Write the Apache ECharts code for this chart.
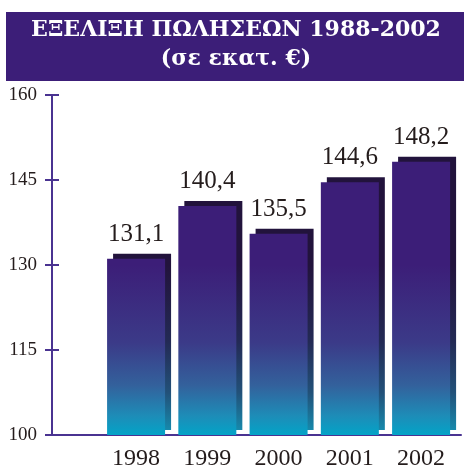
<!DOCTYPE html>
<html>
<head>
<meta charset="utf-8">
<script src="https://cdn.jsdelivr.net/npm/echarts@6/dist/echarts.min.js"></script>
<style>
html,body{margin:0;padding:0;background:#fff;}
#chart{width:464px;height:471px;}
</style>
</head>
<body>
<div id="chart"></div>
<script>
var titleLine1 = 'ΕΞΕΛΙΞΗ ΠΩΛΗΣΕΩΝ 1988-2002';
var titleLine2 = '(σε εκατ. €)';
var categories = ['1998', '1999', '2000', '2001', '2002'];
var sales = [131.1, 140.4, 135.5, 144.6, 148.2];
var yMin = 100, yMax = 160, yStep = 15;

var chart = echarts.init(document.getElementById('chart'), null, {renderer: 'canvas'});
var seriesData = sales.map(function (v, i) { return [i, v]; });
var axisColor = '#4a3391';
var textColor = '#241c1c';
var serif = '"Liberation Serif", "Times New Roman", serif';
var BAR_W = 58;

var frontGrad = {
  type: 'linear', x: 0, y: 265, x2: 0, y2: 437, global: true,
  colorStops: [
    {offset: 0, color: '#3c1e78'},
    {offset: 0.45, color: '#3b3a88'},
    {offset: 0.7, color: '#33619c'},
    {offset: 0.88, color: '#1d8db8'},
    {offset: 1, color: '#00a6c9'}
  ]
};
var shadowGrad = {
  type: 'linear', x: 0, y: 265, x2: 0, y2: 435, global: true,
  colorStops: [
    {offset: 0, color: '#22133c'},
    {offset: 0.45, color: '#232a55'},
    {offset: 0.75, color: '#225179'},
    {offset: 1, color: '#1590b2'}
  ]
};

var option = {
  animation: false,
  backgroundColor: '#ffffff',
  graphic: [{
    type: 'rect', z: 0,
    shape: {x: 6, y: 12, width: 460, height: 69},
    style: {fill: '#3c1e78'}
  }],
  title: {
    text: titleLine1 + '\n' + titleLine2,
    left: 236, top: 16, padding: 0,
    textAlign: 'center',
    z: 10,
    textStyle: {
      color: '#ffffff', fontFamily: '"DejaVu Serif", serif', fontWeight: 'bold',
      fontSize: 22, lineHeight: 29
    }
  },
  grid: {left: 52, right: 3, top: 95, bottom: 32},
  xAxis: {
    type: 'value', min: -1.18, max: 4.56,
    axisLine: {show: true, onZero: false, lineStyle: {color: axisColor, width: 2}},
    axisTick: {show: false},
    splitLine: {show: false},
    axisLabel: {
      customValues: [0, 1, 2, 3, 4],
      formatter: function (v) { return categories[Math.round(v)]; },
      color: textColor, fontFamily: serif, fontSize: 24, margin: 12
    }
  },
  yAxis: [{
    type: 'value', min: yMin, max: yMax, interval: yStep, position: 'left',
    axisLine: {show: true, onZero: false, lineStyle: {color: axisColor, width: 2}},
    axisTick: {show: true, length: 7, lineStyle: {color: axisColor, width: 2}},
    splitLine: {show: false},
    axisLabel: {color: textColor, fontFamily: serif, fontSize: 19, margin: 15}
  }, {
    type: 'value', min: yMin, max: yMax, interval: yStep, position: 'left',
    axisLine: {show: false, onZero: false},
    axisTick: {show: true, inside: true, length: 7, lineStyle: {color: axisColor, width: 2}},
    splitLine: {show: false},
    axisLabel: {show: false}
  }],
  series: [{
    type: 'custom',
    z: 1,
    data: seriesData,
    renderItem: function (params, api) {
      var top = api.coord([api.value(0), api.value(1)]);
      var base = api.coord([api.value(0), yMin]);
      return {
        type: 'rect',
        shape: {x: top[0] - BAR_W / 2 + 6, y: top[1] - 5, width: BAR_W, height: base[1] - top[1]},
        style: {fill: shadowGrad}
      };
    }
  }, {
    type: 'bar',
    z: 2,
    clip: true,
    barWidth: BAR_W,
    data: seriesData,
    itemStyle: {color: frontGrad},
    label: {
      show: true, position: 'top', distance: 12,
      color: textColor, fontFamily: serif, fontSize: 25,
      formatter: function (p) { return String(p.value[1]).replace('.', ','); }
    }
  }]
};
chart.setOption(option);
</script>
</body>
</html>
